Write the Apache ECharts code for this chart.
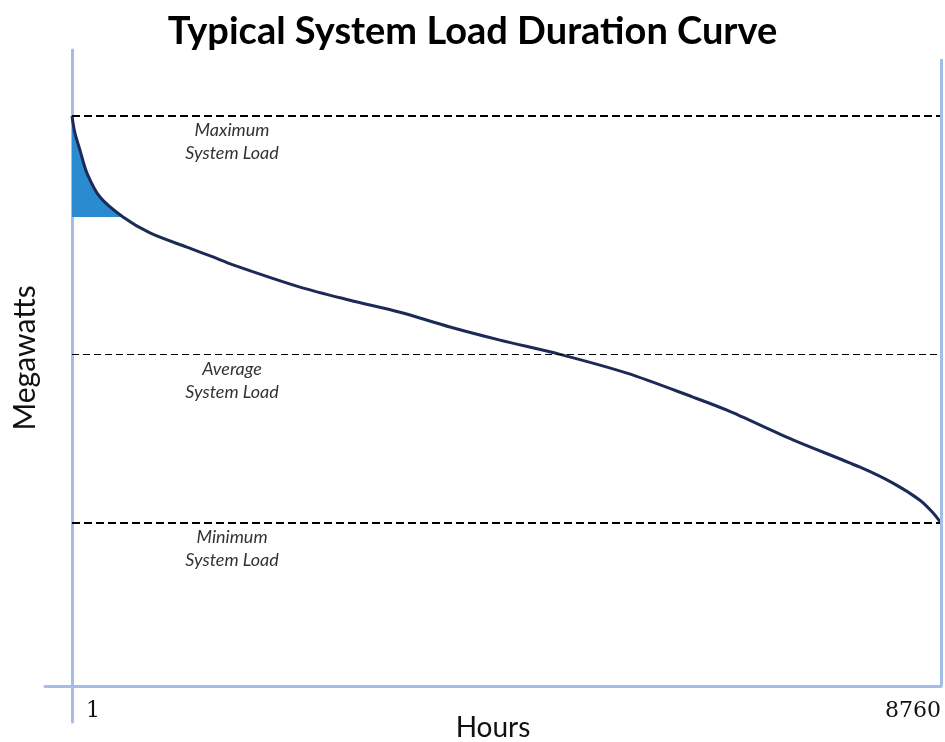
<!DOCTYPE html>
<html>
<head>
<meta charset="utf-8">
<script src="https://cdn.jsdelivr.net/npm/echarts@6/dist/echarts.min.js"></script>
<style>html,body{margin:0;padding:0;background:#fff}#chart{width:945px;height:742px}</style>
</head>
<body>
<div id="chart"></div>
<script>
// Load duration curve (hours sorted, megawatts in arbitrary units)
var hours = [1, 31, 82, 152, 283, 515, 787, 1160, 1422, 1624, 2299, 2803, 3307, 3811, 4315, 4920, 5595, 6260, 6603, 7268, 7944, 8276, 8548, 8679, 8760];
var load  = [100, 97.0, 94.0, 90.0, 85.8, 82.3, 79.5, 77.0, 75.3, 73.9, 70.0, 67.7, 65.6, 63.0, 60.7, 58.2, 54.9, 50.7, 48.4, 43.2, 38.4, 35.6, 32.6, 30.4, 28.6];
var peakFillLevel = 82.3;
var peakFillCount = 6; // first points forming the shaded peak area
var refNames  = ['Maximum\nSystem Load', 'Average\nSystem Load', 'Minimum\nSystem Load'];
var refValues = [100, 58.2, 28.6];
var refLabelHour = 1614;
var xTickLabels = [1, 8760];

var curveData = hours.map(function (h, i) { return [h, load[i]]; });
var fillData = curveData.slice(0, peakFillCount);

var chart = echarts.init(document.getElementById('chart'));
var axisBlue = '#A3BDE6';
var refLines = refValues.map(function (v, i) {
  var style = { color: '#000', width: i === 1 ? 1 : 2, type: i === 1 ? [7, 4] : [8, 4] };
  return [{ coord: [1, v], lineStyle: style }, { coord: [8760, v] }];
});
refLines.push([
  { coord: [8760, 0], lineStyle: { color: axisBlue, width: 3, type: 'solid' } },
  { coord: [8760, 110] }
]);
chart.setOption({
  animation: false,
  title: {
    text: 'Typical System Load Duration Curve',
    left: 'center', top: 8,
    textStyle: { fontFamily: 'Lato', fontWeight: 'bold', fontSize: 38, color: '#000' }
  },
  grid: { left: 45, right: 4, top: 50, bottom: 20, outerBoundsMode: 'none', containLabel: false },
  xAxis: {
    type: 'value', min: -271, max: 8760,
    name: 'Hours', nameLocation: 'middle', nameGap: 20, nameMoveOverlap: false,
    nameTextStyle: { fontFamily: 'Lato', fontSize: 28, color: '#111', verticalAlign: 'bottom' },
    axisLine: { show: true, onZero: true, lineStyle: { color: axisBlue, width: 3 } },
    axisTick: { show: false },
    splitLine: { show: false },
    axisLabel: {
      customValues: xTickLabels,
      alignMinLabel: 'left', alignMaxLabel: 'right',
      margin: -22,
      fontFamily: 'DejaVu Serif', fontSize: 22, color: '#111',
      formatter: function (v) { return v === 1 ? '  1' : String(v); }
    }
  },
  yAxis: {
    type: 'value', min: -6.3, max: 111.6,
    name: 'Megawatts', nameLocation: 'middle', nameGap: 5, nameRotate: 90, nameMoveOverlap: false,
    nameTextStyle: { fontFamily: 'Lato', fontSize: 30, color: '#111', padding: [0, 0, 0, 56] },
    axisLine: { show: true, onZero: true, lineStyle: { color: axisBlue, width: 3 } },
    axisTick: { show: false },
    axisLabel: { show: false },
    splitLine: { show: false }
  },
  series: [
    {
      type: 'line', data: fillData, smooth: 0.3, symbol: 'none',
      lineStyle: { width: 0, opacity: 0 },
      areaStyle: { color: '#2B8BD0', opacity: 1, origin: peakFillLevel },
      z: 2
    },
    {
      type: 'line', data: curveData, smooth: 0.3, symbol: 'none',
      lineStyle: { color: '#1C2A57', width: 3 },
      z: 3,
      markLine: {
        symbol: 'none', silent: true,
        label: { show: false },
        data: refLines
      },
      markPoint: {
        symbol: 'circle', symbolSize: 0, silent: true,
        data: refValues.map(function (v, i) {
          return {
            coord: [refLabelHour, v],
            label: {
              show: true, position: 'inside', offset: [0, 26],
              formatter: refNames[i], align: 'center',
              fontFamily: 'Lato', fontStyle: 'italic', fontSize: 18, lineHeight: 23, color: '#333'
            }
          };
        })
      }
    }
  ]
});
</script>
</body>
</html>
